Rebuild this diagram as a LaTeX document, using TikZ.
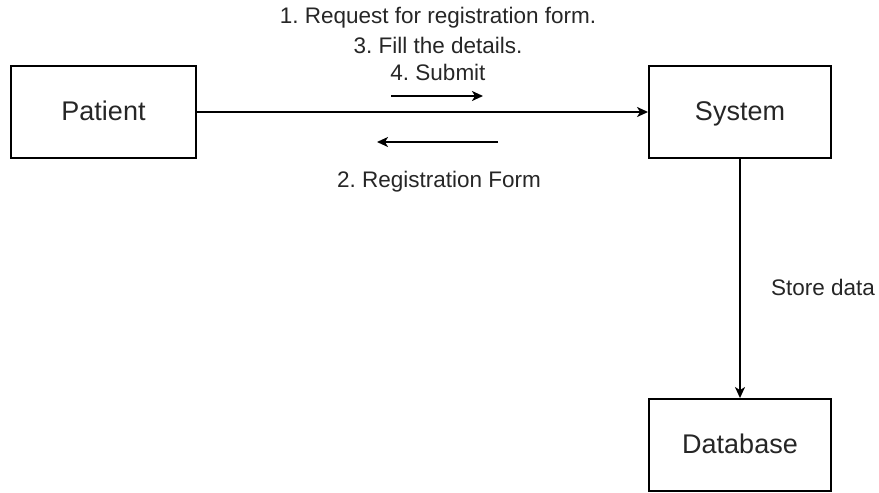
\documentclass[tikz,border=0pt]{standalone}
\usepackage{fontspec}
\setmainfont{Liberation Sans}
\usetikzlibrary{arrows.meta}
\definecolor{txt}{HTML}{262626}
\tikzset{
  box/.style={draw=black, line width=1.9pt, minimum width=182pt, minimum height=92pt, inner sep=0pt, text height=20pt, text depth=3pt, font=\fontsize{27}{32}\selectfont, text=txt},
  lbl/.style={font=\fontsize{22.5}{27}\selectfont, text=txt, inner sep=0pt},
  conn/.style={line width=1.8pt, -{Stealth[length=11pt,width=10pt,inset=3pt]}},
}
\begin{document}
\frenchspacing
\begin{tikzpicture}[x=1pt,y=-1pt]
\useasboundingbox (0,0) rectangle (879,493);
\node[box, minimum width=185pt] (patient) at (103.5,112) {Patient};
\node[box] (system) at (740,112) {System};
\node[box] (database) at (740,445) {Database};
\draw[conn] (patient.east) -- (system.west);
\draw[conn] (system.south) -- (database.north);
\coordinate (r1) at (391,96);
\coordinate (r2) at (483,96);
\coordinate (l1) at (498,142);
\coordinate (l2) at (377,142);
\draw[conn] (r1) -- (r2);
\draw[conn] (l1) -- (l2);
\node[lbl] (t1) at (438,18) {1. Request for registration form.};
\node[lbl] (t3) at (438,45) {3. Fill the details.};
\node[lbl] (t4) at (438,72) {4. Submit};
\node[lbl] (t2) at (439,182) {2. Registration Form};
\node[lbl] (store) at (823,287) {Store data};
\end{tikzpicture}
\end{document}
